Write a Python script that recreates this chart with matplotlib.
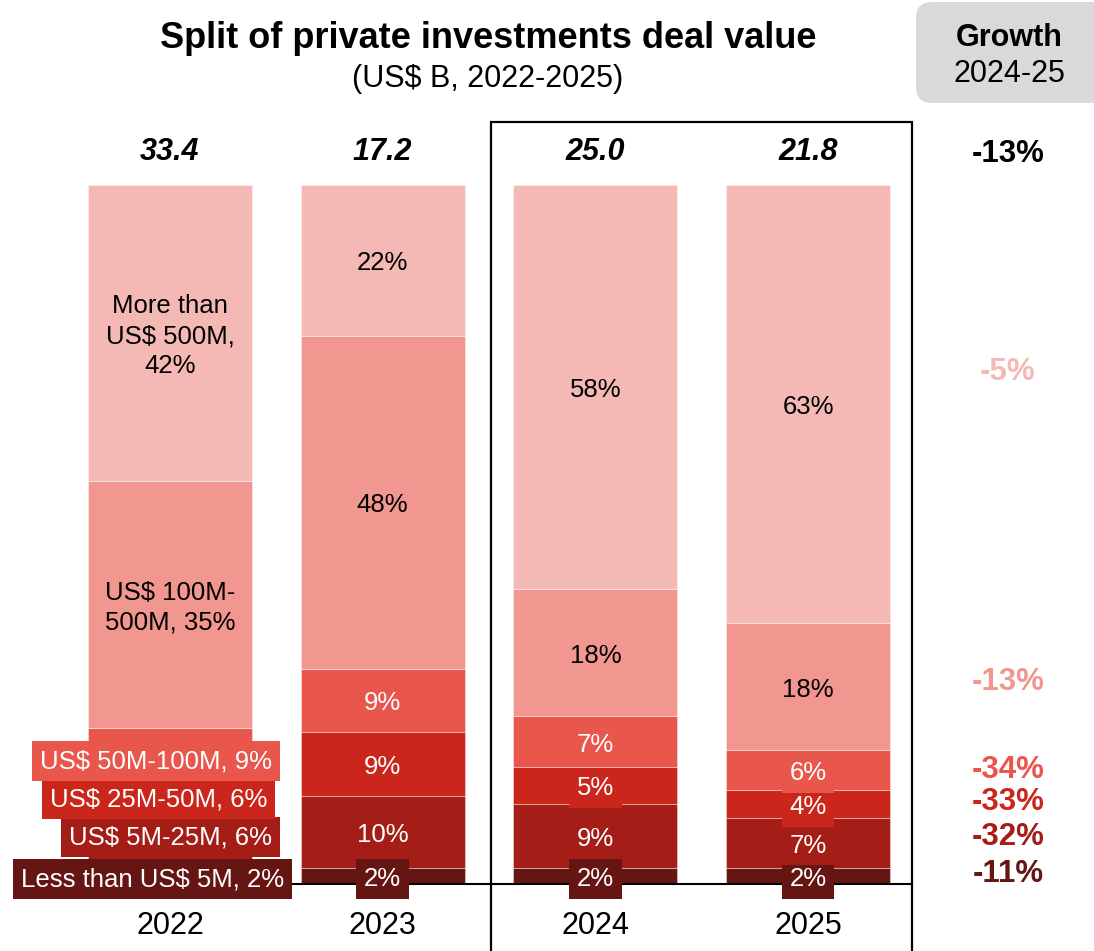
import matplotlib
matplotlib.use('Agg')
import matplotlib.pyplot as plt
from matplotlib.patches import FancyBboxPatch, Rectangle

plt.rcParams['font.family'] = ['Liberation Sans', 'DejaVu Sans']

# -----------------------------------------------------------------------------
# data (shares in %, bottom -> top)
# -----------------------------------------------------------------------------
years = ['2022', '2023', '2024', '2025']
totals = [33.4, 17.2, 25.0, 21.8]
segments = ['Less than US$ 5M', 'US$ 5M-25M', 'US$ 25M-50M',
            'US$ 50M-100M', 'US$ 100M-500M', 'More than US$ 500M']
lt_5m = [2.0, 2.3, 2.3, 2.3]
m5_25 = [6.0, 10.3, 9.2, 7.2]
m25_50 = [5.7, 9.2, 5.2, 3.9]
m50_100 = [8.6, 9.0, 7.3, 5.7]
m100_500 = [35.3, 47.6, 18.2, 18.2]
gt_500m = [42.4, 21.6, 57.8, 62.7]
shares = [lt_5m, m5_25, m25_50, m50_100, m100_500, gt_500m]
growth_total = -13
growth = [-11, -32, -33, -34, -13, -5]

colors = ['#661612', '#A41D16', '#CB261C', '#E8564C', '#F1978F', '#F4B9B4']
text_colors = ['white', 'white', 'white', 'white', 'black', 'black']

# -----------------------------------------------------------------------------
# layout: pixel <-> data helpers (figure is 1094x951 px)
# -----------------------------------------------------------------------------
W, H = 1094, 951
X0, DX = 170, 212.67      # px of first bar centre, px between bars
Y0, DY = 884, 6.99        # px of 0 %, px per %
NUDGE = 3 / DY            # text sits a touch lower than geometric centre


def px(x):
    return (x - X0) / DX


def py(y):
    return (Y0 - y) / DY


fig = plt.figure(figsize=(W / 100, H / 100), dpi=100)
ax = fig.add_axes([0, 0, 1, 1])
ax.set_xlim(px(0), px(W))
ax.set_ylim(py(H), py(0))
ax.axis('off')

xs = list(range(len(years)))
bottoms = [0.0] * len(years)
for i, vals in enumerate(shares):
    ax.bar(xs, vals, bottom=bottoms, width=0.771, color=colors[i],
           edgecolor=(1, 1, 1, 0.45), linewidth=0.6, zorder=2)
    for j, v in enumerate(vals):
        yc = bottoms[j] + v / 2 - NUDGE
        if j == 0:
            continue
        ax.text(j, yc, f"{round(v)}%", ha='center', va='center',
                fontsize=18.5, color=text_colors[i], zorder=5,
                bbox=dict(boxstyle='square,pad=0.3', fc=colors[i], ec='none'))
    bottoms = [b + v for b, v in zip(bottoms, vals)]

# 2022: large segments labelled inside, small ones at the left
b22 = [sum(s[0] for s in shares[:k]) for k in range(len(shares))]
ax.text(0, b22[5] + gt_500m[0] / 2 - NUDGE, f"More than\nUS$ 500M,\n{round(gt_500m[0])}%",
        ha='center', va='center', fontsize=18.5, linespacing=1.3, zorder=5)
ax.text(0, b22[4] + m100_500[0] / 2 - NUDGE, f"US$ 100M-\n500M, {round(m100_500[0])}%",
        ha='center', va='center', fontsize=18.5, linespacing=1.3, zorder=5)
left_x = [284, 272, 267, 272]
left_y = [879, 837, 799, 761]
for k in range(4):
    ax.text(px(left_x[k]), py(left_y[k]), f"{segments[k]}, {round(shares[k][0])}%",
            ha='right', va='center', fontsize=18.5, color='white', zorder=6,
            bbox=dict(boxstyle='square,pad=0.3', fc=colors[k], ec='none'))

# totals and years
for j in xs:
    ax.text(j, py(152), f"{totals[j]:.1f}", ha='center', va='center',
            fontsize=22, fontweight='bold', fontstyle='italic')
    ax.text(j, py(926), years[j], ha='center', va='center', fontsize=22)

# baseline and 2024-25 box
ax.plot([px(60), px(912)], [0, 0], color='black', lw=1.5, zorder=3)
ax.add_patch(Rectangle((px(491), py(H + 10)), px(912) - px(491), py(122) - py(H + 10),
                       fill=False, ec='black', lw=1.6, zorder=4, clip_on=False))

# growth column
gx = px(1008)
ax.text(gx, py(154), f"{growth_total}%", ha='center', va='center',
        fontsize=22.5, fontweight='bold', color='black')
growth_y = [874, 837, 802, 770, 682, 372]
for k in range(len(growth)):
    ax.text(gx, py(growth_y[k]), f"{growth[k]}%", ha='center', va='center',
            fontsize=22.5, fontweight='bold', color=colors[k])

# overlay axes in pixel units for title and header
ov = fig.add_axes([0, 0, 1, 1], facecolor='none')
ov.set_xlim(0, W)
ov.set_ylim(H, 0)
ov.axis('off')
ov.add_patch(FancyBboxPatch((916, 2), 220, 101, boxstyle='round,pad=0,rounding_size=16',
                            fc='#D9D9D9', ec='none'))
ov.text(1009, 38, "Growth", ha='center', va='center', fontsize=22, fontweight='bold')
ov.text(1009, 74, "2024-25", ha='center', va='center', fontsize=22)
ov.text(488, 39, "Split of private investments deal value", ha='center', va='center',
        fontsize=26, fontweight='bold')
ov.text(488, 79, "(US$ B, 2022-2025)", ha='center', va='center', fontsize=22)

fig.savefig('out.png', dpi=100)
